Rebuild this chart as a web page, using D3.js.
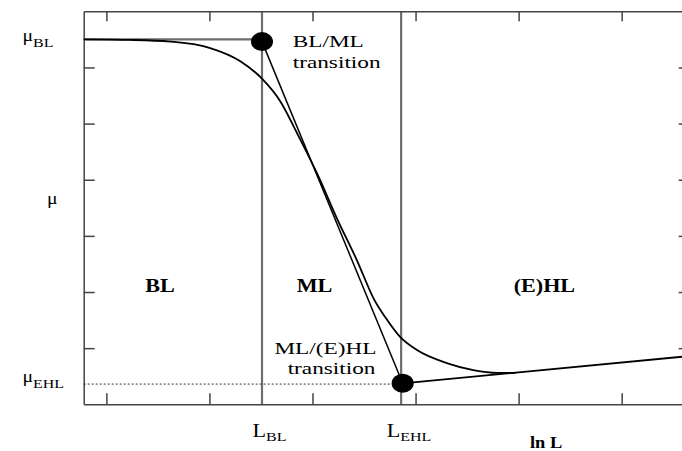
<!DOCTYPE html>
<html><head><meta charset="utf-8">
<script src="https://cdn.jsdelivr.net/npm/d3@7"></script>
<style>
html,body{margin:0;padding:0;background:#fff;}
svg{display:block;}
</style></head>
<body><svg id="c" width="682" height="451"></svg>
<script>
// ---- data (schematic units) ----
const xTicks = [1, 2, 3, 4, 5, 6];
const yTicks = [1, 2, 3, 4, 5, 6];
const curveLnL = [0.78, 1.23, 1.62, 2.00, 2.30, 2.51, 2.69, 2.85, 3.05, 3.24, 3.43, 3.60, 3.71, 3.85, 4.01, 4.31, 4.56, 4.79, 4.97];
const curveMu  = [6.50, 6.49, 6.46, 6.35, 6.11, 5.80, 5.39, 4.83, 4.09, 3.30, 2.57, 1.86, 1.54, 1.20, 0.97, 0.73, 0.61, 0.56, 0.56];
const muBL = 6.5, muEHL = 0.36;
const lnLBL = 2.51, lnLEHL = 3.86;
const transLnL = [2.51, 3.875];
const transMu  = [6.46, 0.374];
const ehlLineLnL = [3.875, 6.66];
const ehlLineMu  = [0.374, 0.86];
const regionNames = ["BL", "ML", "(E)HL"];
const regionLnL = [1.52, 3.02, 5.25];
const regionMu = 2.0;

const FONT = "'Liberation Serif', 'Times New Roman', 'DejaVu Serif', serif";

// ---- scales ----
const svg = d3.select("#c");
const x = d3.scaleLinear().domain([0.78, 6.66]).range([83.7, 689.7]);
const y = d3.scaleLinear().domain([0, 7]).range([404.3, 11.3]);
const X0 = x.range()[0], X1 = x.range()[1], Y0 = y.range()[0], Y1 = y.range()[1];

// vertical region separators
[lnLBL, lnLEHL].forEach(v => {
  svg.append("line").attr("x1", x(v)).attr("x2", x(v)).attr("y1", Y1).attr("y2", Y0)
    .attr("stroke", "#6e6e6e").attr("stroke-width", 2.2);
});

// axes (inward ticks, no labels)
const axStyle = g => { g.selectAll("path,line").attr("stroke", "#444").attr("stroke-width", 1.5); g.selectAll("text").remove(); };
svg.append("g").attr("transform", `translate(0,${Y0})`).call(d3.axisBottom(x).tickValues(xTicks).tickSizeInner(-11).tickSizeOuter(0).tickFormat("")).call(axStyle);
svg.append("g").attr("transform", `translate(0,${Y1})`).call(d3.axisTop(x).tickValues(xTicks).tickSizeInner(-10).tickSizeOuter(0).tickFormat("")).call(axStyle);
svg.append("g").attr("transform", `translate(${X0},0)`).call(d3.axisLeft(y).tickValues(yTicks).tickSizeInner(-11).tickSizeOuter(0).tickFormat("")).call(axStyle);
svg.append("g").attr("transform", `translate(${X1},0)`).call(d3.axisRight(y).tickValues(yTicks).tickSizeInner(-11).tickSizeOuter(0).tickFormat("")).call(axStyle);

// mu_BL horizontal
svg.append("line").attr("x1", x(0.78)).attr("x2", x(transLnL[0])).attr("y1", y(muBL)).attr("y2", y(muBL))
  .attr("stroke", "#6e6e6e").attr("stroke-width", 2.2);
// mu_EHL dotted
svg.append("line").attr("x1", x(0.78)).attr("x2", x(transLnL[1])).attr("y1", y(muEHL)).attr("y2", y(muEHL))
  .attr("stroke", "#333").attr("stroke-width", 1).attr("stroke-dasharray", "2,2");

// curve
const curvePts = curveLnL.map((v, i) => [v, curveMu[i]]);
svg.append("path").datum(curvePts)
  .attr("d", d3.line().x(d => x(d[0])).y(d => y(d[1])).curve(d3.curveMonotoneX))
  .attr("fill", "none").attr("stroke", "#000").attr("stroke-width", 1.8);

// tangent line between transitions
const ln = d3.line().x(d => x(d[0])).y(d => y(d[1]));
svg.append("path").datum(transLnL.map((v, i) => [v, transMu[i]])).attr("d", ln)
  .attr("fill", "none").attr("stroke", "#000").attr("stroke-width", 1.5);
// EHL asymptote
svg.append("path").datum(ehlLineLnL.map((v, i) => [v, ehlLineMu[i]])).attr("d", ln)
  .attr("fill", "none").attr("stroke", "#000").attr("stroke-width", 1.8);

// transition points
svg.selectAll("ellipse.tp").data(transLnL.map((v, i) => [v, transMu[i]])).enter().append("ellipse")
  .attr("cx", d => x(d[0])).attr("cy", d => y(d[1])).attr("rx", 11).attr("ry", 9.5).attr("fill", "#000");

// ---- text helper (horizontally stretched serif) ----
function label(px, py, parts, opts = {}) {
  const g = svg.append("g").attr("transform", `translate(${px},${py}) scale(${opts.sx || 1.23},1)`);
  const t = g.append("text").attr("x", 0).attr("y", 0)
    .attr("font-family", FONT).attr("fill", "#000")
    .attr("text-anchor", opts.anchor || "start")
    .attr("font-size", opts.size || 19)
    .attr("font-weight", opts.bold ? "bold" : "normal");
  parts.forEach(p => {
    const s = t.append("tspan").text(p.t);
    if (p.size) s.attr("font-size", p.size);
    if (p.dy) s.attr("dy", p.dy);
  });
  return g;
}

label(292.7, 47.3, [{t: "BL/ML"}], {size: 17.5, sx: 1.33});
label(292.7, 67.5, [{t: "transition"}], {size: 17.5, sx: 1.33});
label(376.5, 353.5, [{t: "ML/(E)HL"}], {anchor: "end", size: 17.5, sx: 1.33});
label(375.5, 374, [{t: "transition"}], {anchor: "end", size: 17.5, sx: 1.33});

regionNames.forEach((n, i) => label(x(regionLnL[i]), y(regionMu) - 0.5, [{t: n}], {anchor: "middle", bold: true, size: 18}));

// y labels
label(22.5, 40.5, [{t: "μ", size: 16}, {t: "BL", size: 13, dy: 6}]);
label(47, 204, [{t: "μ", size: 16}]);
label(22.5, 381.5, [{t: "μ", size: 16}, {t: "EHL", size: 13, dy: 6}]);

// x labels
label(x(lnLBL) - 9.5, 437, [{t: "L", size: 18}, {t: "BL", size: 13, dy: 4}]);
label(x(lnLEHL) - 14.5, 437, [{t: "L", size: 18}, {t: "EHL", size: 13, dy: 4}]);
label(530, 448, [{t: "ln L"}], {size: 16, bold: true, sx: 1.15});
</script></body></html>
